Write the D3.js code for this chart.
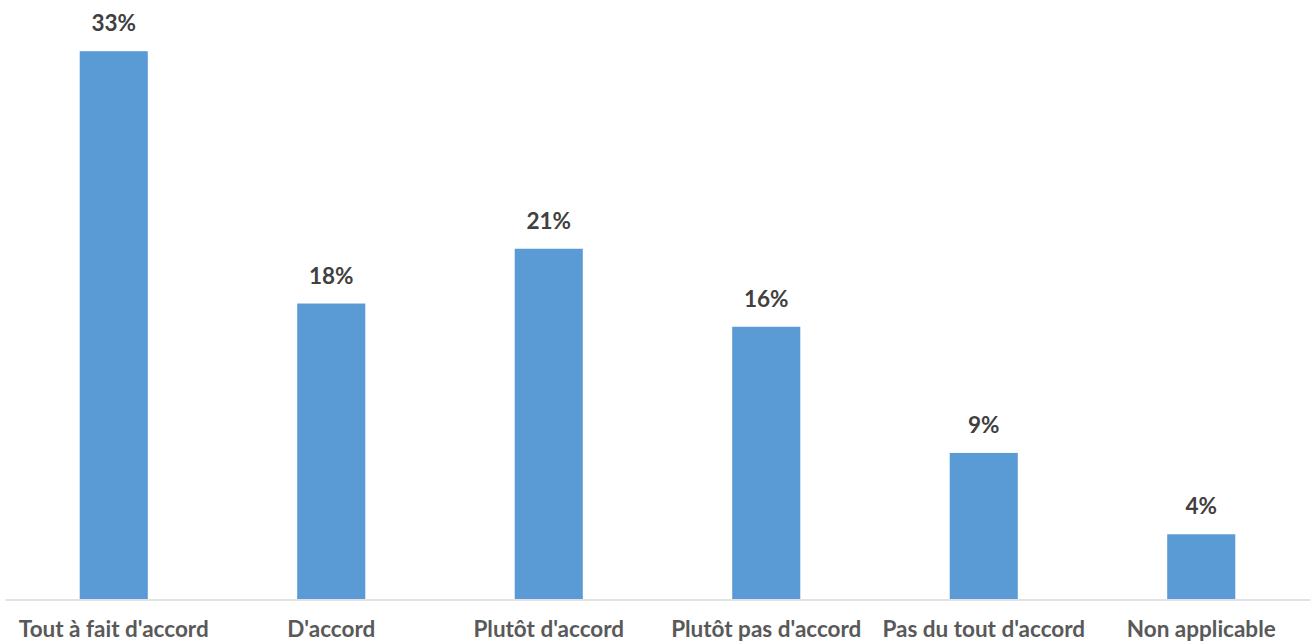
<!DOCTYPE html>
<html><head><meta charset="utf-8">
<script src="https://cdn.jsdelivr.net/npm/d3@7"></script>
<style>body{margin:0;background:#fff}svg{display:block}</style>
</head><body><svg id="c" width="1313" height="642"></svg>
<script>
const categories = ["Tout à fait d'accord","D'accord","Plutôt d'accord","Plutôt pas d'accord","Pas du tout d'accord","Non applicable"];
const values = [0.33, 0.178, 0.211, 0.164, 0.088, 0.039];

const svg = d3.select("#c");
const font = "Lato, 'Open Sans', sans-serif";
const x = d3.scaleBand().domain(categories).range([5, 1310]).paddingInner(0.687).paddingOuter(0.3435);
const y = d3.scaleLinear().domain([0, 0.35]).range([599, 18]);
const fmt = d3.format(".0%");

svg.append("g").selectAll("rect").data(values).join("rect")
  .attr("x", (d,i)=>x(categories[i])).attr("width", x.bandwidth())
  .attr("y", d=>y(d)).attr("height", d=>y(0)-y(d)).attr("fill", "#5b9bd5");

svg.append("g").selectAll("text").data(values).join("text")
  .attr("x", (d,i)=>x(categories[i])+x.bandwidth()/2).attr("y", d=>y(d)-20)
  .attr("text-anchor","middle").attr("font-family",font).attr("font-weight","bold")
  .attr("font-size","22.5px").attr("fill","#404040").text(d=>fmt(d));

const ax = svg.append("g").attr("transform","translate(0,599.5)").call(d3.axisBottom(x).tickSize(0).tickPadding(0));
ax.select(".domain").attr("stroke","#d9d9d9").attr("stroke-width",1.5);
ax.selectAll("text").attr("y", 37).attr("dy", 0).attr("font-family",font).attr("font-weight","bold")
  .attr("font-size","22.5px").attr("fill","#595959");
</script></body></html>
